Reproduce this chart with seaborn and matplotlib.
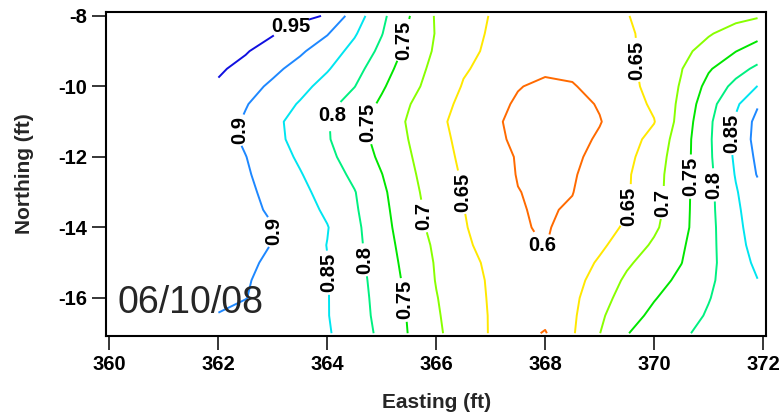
import numpy as np
import matplotlib
matplotlib.use('Agg')
import matplotlib.pyplot as plt
import seaborn as sns

sns.set_style('ticks')
plt.rcParams['font.family'] = ['Liberation Sans', 'DejaVu Sans']
plt.rcParams['font.weight'] = 'bold'
plt.rcParams['axes.unicode_minus'] = False

# grid (easting in ft, northing in ft)
easting = [362.0, 362.5, 363.0, 363.5, 364.0, 364.5, 365.0, 365.5, 366.0, 366.5,
           367.0, 367.5, 368.0, 368.5, 369.0, 369.5, 370.0, 370.5, 371.0, 371.5, 371.9]
northing = [-8.0, -8.5, -9.0, -9.5, -10.0, -10.5, -11.0, -11.5, -12.0, -12.5,
            -13.0, -13.5, -14.0, -14.5, -15.0, -15.5, -16.0, -16.5, -17.0]

# estimated values, one row per northing (top to bottom)
values = [
    [0.975, 0.970, 0.965, 0.960, 0.947, 0.876, 0.811, 0.752, 0.695, 0.671, 0.648, 0.637, 0.630, 0.632, 0.640, 0.649, 0.659, 0.669, 0.678, 0.687, 0.695],
    [0.970, 0.962, 0.953, 0.932, 0.903, 0.855, 0.802, 0.743, 0.697, 0.668, 0.645, 0.633, 0.627, 0.630, 0.637, 0.645, 0.661, 0.679, 0.696, 0.718, 0.735],
    [0.962, 0.953, 0.932, 0.907, 0.874, 0.835, 0.788, 0.735, 0.693, 0.661, 0.643, 0.630, 0.622, 0.623, 0.630, 0.642, 0.663, 0.688, 0.717, 0.749, 0.770],
    [0.955, 0.939, 0.911, 0.883, 0.854, 0.817, 0.771, 0.724, 0.686, 0.654, 0.638, 0.622, 0.607, 0.609, 0.622, 0.641, 0.665, 0.698, 0.745, 0.782, 0.810],
    [0.945, 0.918, 0.891, 0.864, 0.833, 0.801, 0.756, 0.715, 0.679, 0.647, 0.625, 0.602, 0.592, 0.597, 0.614, 0.636, 0.665, 0.704, 0.765, 0.814, 0.851],
    [0.935, 0.903, 0.874, 0.846, 0.814, 0.780, 0.742, 0.702, 0.669, 0.639, 0.613, 0.595, 0.585, 0.588, 0.603, 0.628, 0.658, 0.711, 0.782, 0.841, 0.895],
    [0.925, 0.894, 0.862, 0.832, 0.803, 0.767, 0.731, 0.695, 0.661, 0.634, 0.608, 0.590, 0.580, 0.583, 0.598, 0.623, 0.648, 0.719, 0.790, 0.857, 0.915],
    [0.920, 0.893, 0.864, 0.834, 0.804, 0.770, 0.734, 0.699, 0.666, 0.637, 0.611, 0.592, 0.583, 0.587, 0.605, 0.631, 0.665, 0.726, 0.792, 0.861, 0.918],
    [0.920, 0.901, 0.872, 0.843, 0.812, 0.778, 0.741, 0.704, 0.670, 0.641, 0.617, 0.597, 0.587, 0.592, 0.612, 0.638, 0.676, 0.728, 0.791, 0.858, 0.910],
    [0.920, 0.905, 0.881, 0.853, 0.823, 0.790, 0.751, 0.709, 0.675, 0.645, 0.621, 0.598, 0.590, 0.596, 0.618, 0.644, 0.682, 0.730, 0.788, 0.853, 0.903],
    [0.920, 0.908, 0.889, 0.862, 0.833, 0.802, 0.759, 0.714, 0.679, 0.649, 0.624, 0.601, 0.593, 0.599, 0.622, 0.645, 0.683, 0.732, 0.787, 0.846, 0.885],
    [0.920, 0.909, 0.895, 0.870, 0.842, 0.806, 0.763, 0.719, 0.682, 0.651, 0.626, 0.602, 0.596, 0.604, 0.626, 0.648, 0.685, 0.733, 0.787, 0.841, 0.880],
    [0.920, 0.910, 0.901, 0.877, 0.852, 0.811, 0.767, 0.723, 0.685, 0.654, 0.628, 0.602, 0.598, 0.607, 0.631, 0.657, 0.692, 0.735, 0.786, 0.837, 0.875],
    [0.918, 0.909, 0.899, 0.875, 0.849, 0.813, 0.771, 0.729, 0.692, 0.659, 0.633, 0.609, 0.599, 0.615, 0.641, 0.673, 0.707, 0.743, 0.787, 0.832, 0.870],
    [0.915, 0.906, 0.894, 0.873, 0.851, 0.816, 0.775, 0.734, 0.696, 0.664, 0.642, 0.625, 0.614, 0.625, 0.656, 0.693, 0.722, 0.749, 0.788, 0.827, 0.860],
    [0.910, 0.903, 0.889, 0.871, 0.852, 0.818, 0.780, 0.738, 0.698, 0.668, 0.645, 0.627, 0.618, 0.632, 0.670, 0.708, 0.733, 0.760, 0.792, 0.824, 0.849],
    [0.905, 0.901, 0.884, 0.868, 0.852, 0.820, 0.783, 0.743, 0.702, 0.671, 0.646, 0.627, 0.618, 0.638, 0.683, 0.718, 0.747, 0.773, 0.798, 0.822, 0.840],
    [0.899, 0.888, 0.876, 0.864, 0.852, 0.822, 0.785, 0.746, 0.705, 0.674, 0.647, 0.625, 0.613, 0.642, 0.692, 0.731, 0.761, 0.783, 0.804, 0.821, 0.835],
    [0.890, 0.881, 0.872, 0.863, 0.854, 0.828, 0.788, 0.748, 0.708, 0.676, 0.647, 0.615, 0.597, 0.645, 0.699, 0.748, 0.772, 0.795, 0.809, 0.821, 0.830],
]

levels = [0.6, 0.65, 0.7, 0.75, 0.8, 0.85, 0.9, 0.95]
level_colors = ['#ff6a00', '#ffe800', '#88ff00', '#00e600', '#00f080', '#00e5f0', '#1e88ff', '#1010e0']

# where the labels sit, and whether they are upright
label_pos = [(363.35, -8.40), (362.34, -11.23), (363.04, -14.12), (364.05, -15.28),
             (364.10, -10.83), (364.72, -14.91), (365.39, -8.68), (364.72, -11.03),
             (365.43, -16.05), (365.73, -13.69), (366.47, -13.00), (367.94, -14.57),
             (369.77, -9.25), (369.59, -13.41), (370.20, -13.30), (370.69, -12.56),
             (371.12, -12.79), (371.43, -11.32)]
label_rot = [0, 90, 90, 90, 0, 90, 90, 90, 90, 90, 90, 0, 90, 90, 90, 90, 90, 90]

fig = plt.figure(figsize=(7.79, 4.19), dpi=100)
ax = fig.add_axes([0.1367, 0.198, 0.8466, 0.7733])

cs = ax.contour(easting, northing, np.array(values), levels=levels,
                colors=level_colors, linewidths=1.4)
texts = ax.clabel(cs, fmt=lambda v: f'{v:g}', manual=label_pos, fontsize=14.5,
                  colors='k', inline=True, inline_spacing=3)
for t, r in zip(texts, label_rot):
    t.set_rotation(r)

ax.text(0.016, 0.071, '06/10/08', transform=ax.transAxes, fontsize=27,
        fontweight='normal', ha='left', va='baseline')

ax.set_xlim(359.945, 372.055)
ax.set_ylim(-17.08, -7.89)
ax.set_xticks([360, 362, 364, 366, 368, 370, 372])
ax.set_yticks([-16, -14, -12, -10, -8])
ax.tick_params(direction='out', length=10, width=1.1, labelsize=14.5, pad=4, colors='k')
for s in ax.spines.values():
    s.set_linewidth(1.5)
    s.set_color('k')
    s.set_visible(True)

ax.set_xlabel('Easting (ft)', fontsize=15, fontweight='bold')
ax.set_ylabel('Northing (ft)', fontsize=15, fontweight='bold')
ax.yaxis.set_label_coords(-0.11, 0.5)
ax.xaxis.set_label_coords(0.5, -0.175)

fig.savefig('out.png', dpi=100)
